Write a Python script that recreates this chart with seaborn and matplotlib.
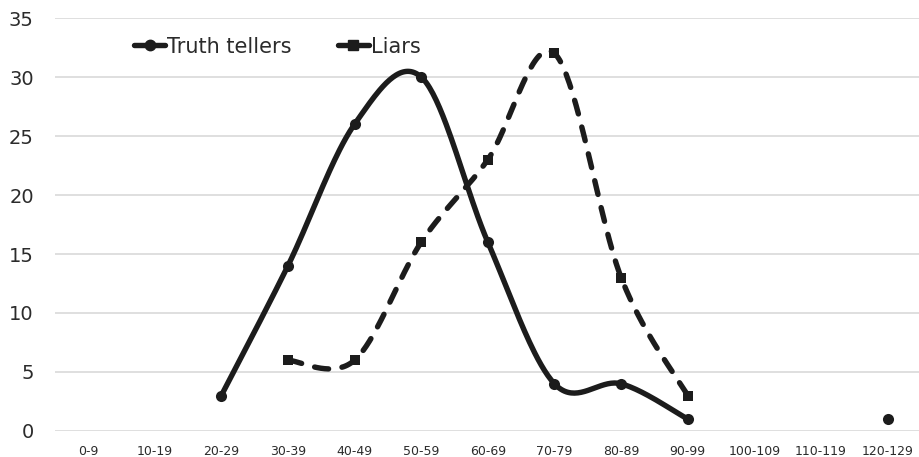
import numpy as np
import pandas as pd
import matplotlib
matplotlib.use("Agg")
import matplotlib.pyplot as plt
from matplotlib.lines import Line2D
import seaborn as sns

categories = ["0-9", "10-19", "20-29", "30-39", "40-49", "50-59", "60-69",
              "70-79", "80-89", "90-99", "100-109", "110-119", "120-129"]
truth_tellers = [np.nan, np.nan, 3, 14, 26, 30, 16, 4, 4, 1, np.nan, np.nan, 1]
liars = [np.nan, np.nan, np.nan, 6, 6, 16, 23, 32, 13, 3, np.nan, np.nan, np.nan]

INK = "#1c1c1c"
LW = 3.9
DASH = [2.6, 2.5]


def smooth_segments(values, steps=40):
    """Catmull-Rom style smoothing through each run of consecutive values."""
    vals = np.asarray(values, dtype=float)
    xs = np.arange(len(vals), dtype=float)
    runs, cur = [], []
    for i, v in enumerate(vals):
        if np.isnan(v):
            if cur:
                runs.append(cur)
            cur = []
        else:
            cur.append(i)
    if cur:
        runs.append(cur)
    out = []
    for run in runs:
        if len(run) < 2:
            continue
        px = xs[run]
        py = vals[run]
        n = len(px)
        sx, sy = [], []
        for i in range(n - 1):
            p0 = (px[max(i - 1, 0)], py[max(i - 1, 0)])
            p1 = (px[i], py[i])
            p2 = (px[i + 1], py[i + 1])
            p3 = (px[min(i + 2, n - 1)], py[min(i + 2, n - 1)])
            c1 = (p1[0] + (p2[0] - p0[0]) / 6, p1[1] + (p2[1] - p0[1]) / 6)
            c2 = (p2[0] - (p3[0] - p1[0]) / 6, p2[1] - (p3[1] - p1[1]) / 6)
            t = np.linspace(0, 1, steps, endpoint=(i == n - 2))
            b0 = (1 - t) ** 3
            b1 = 3 * (1 - t) ** 2 * t
            b2 = 3 * (1 - t) * t ** 2
            b3 = t ** 3
            sx.append(b0 * p1[0] + b1 * c1[0] + b2 * c2[0] + b3 * p2[0])
            sy.append(b0 * p1[1] + b1 * c1[1] + b2 * c2[1] + b3 * p2[1])
        out.append((np.concatenate(sx), np.concatenate(sy)))
    return out


sns.set_theme(style="white")
plt.rcParams["font.family"] = ["DejaVu Sans"]

fig = plt.figure(figsize=(9.19, 4.57), dpi=100)
ax = fig.add_axes([0.0595, 0.0569, 0.9427, 0.9037])

# Smoothed curves
for sx, sy in smooth_segments(truth_tellers):
    sns.lineplot(x=sx, y=sy, ax=ax, color=INK, linewidth=LW, sort=False,
                 estimator=None, solid_capstyle="round")
for sx, sy in smooth_segments(liars):
    sns.lineplot(x=sx, y=sy, ax=ax, color=INK, linewidth=LW, sort=False,
                 estimator=None)
    ln = ax.lines[-1]
    ln.set_dashes(DASH)
    ln.set_dash_capstyle("round")

# Markers at the data points
df_t = pd.DataFrame({"x": np.arange(len(categories)), "y": truth_tellers}).dropna()
df_l = pd.DataFrame({"x": np.arange(len(categories)), "y": liars}).dropna()
sns.scatterplot(data=df_t, x="x", y="y", ax=ax, marker="o", s=64, color=INK,
                edgecolor=INK, linewidth=0, zorder=5)
sns.scatterplot(data=df_l, x="x", y="y", ax=ax, marker="s", s=62, color=INK,
                edgecolor=INK, linewidth=0, zorder=5)

ax.set_xlim(-0.5, len(categories) - 0.5)
ax.set_ylim(0, 35)
ax.set_yticks(np.arange(0, 36, 5))
ax.set_xticks(np.arange(len(categories)))
ax.set_xticklabels(categories)
ax.set_xlabel("")
ax.set_ylabel("")
ax.grid(axis="y", color="#d9d9d9", linewidth=1.2)
ax.grid(axis="x", visible=False)
ax.set_axisbelow(True)
for s in ax.spines.values():
    s.set_visible(False)
ax.tick_params(axis="y", length=0, pad=15, labelsize=14, labelcolor="#2b2b2b")
ax.tick_params(axis="x", length=0, pad=10, labelsize=9, labelcolor="#2b2b2b")

handles = [
    Line2D([], [], color=INK, linewidth=LW, marker="o", markersize=7.5,
           solid_capstyle="round"),
    Line2D([], [], color=INK, linewidth=LW, marker="s", markersize=7.5,
           solid_capstyle="round"),
]
leg = ax.legend(handles, ["Truth tellers", "Liars"], loc="upper left",
                bbox_to_anchor=(0.07, 1.0), ncol=2, frameon=False,
                fontsize=15, handlelength=1.5, handletextpad=0.1,
                columnspacing=2.2, labelcolor="#2b2b2b")

fig.savefig("out.png", dpi=100)
